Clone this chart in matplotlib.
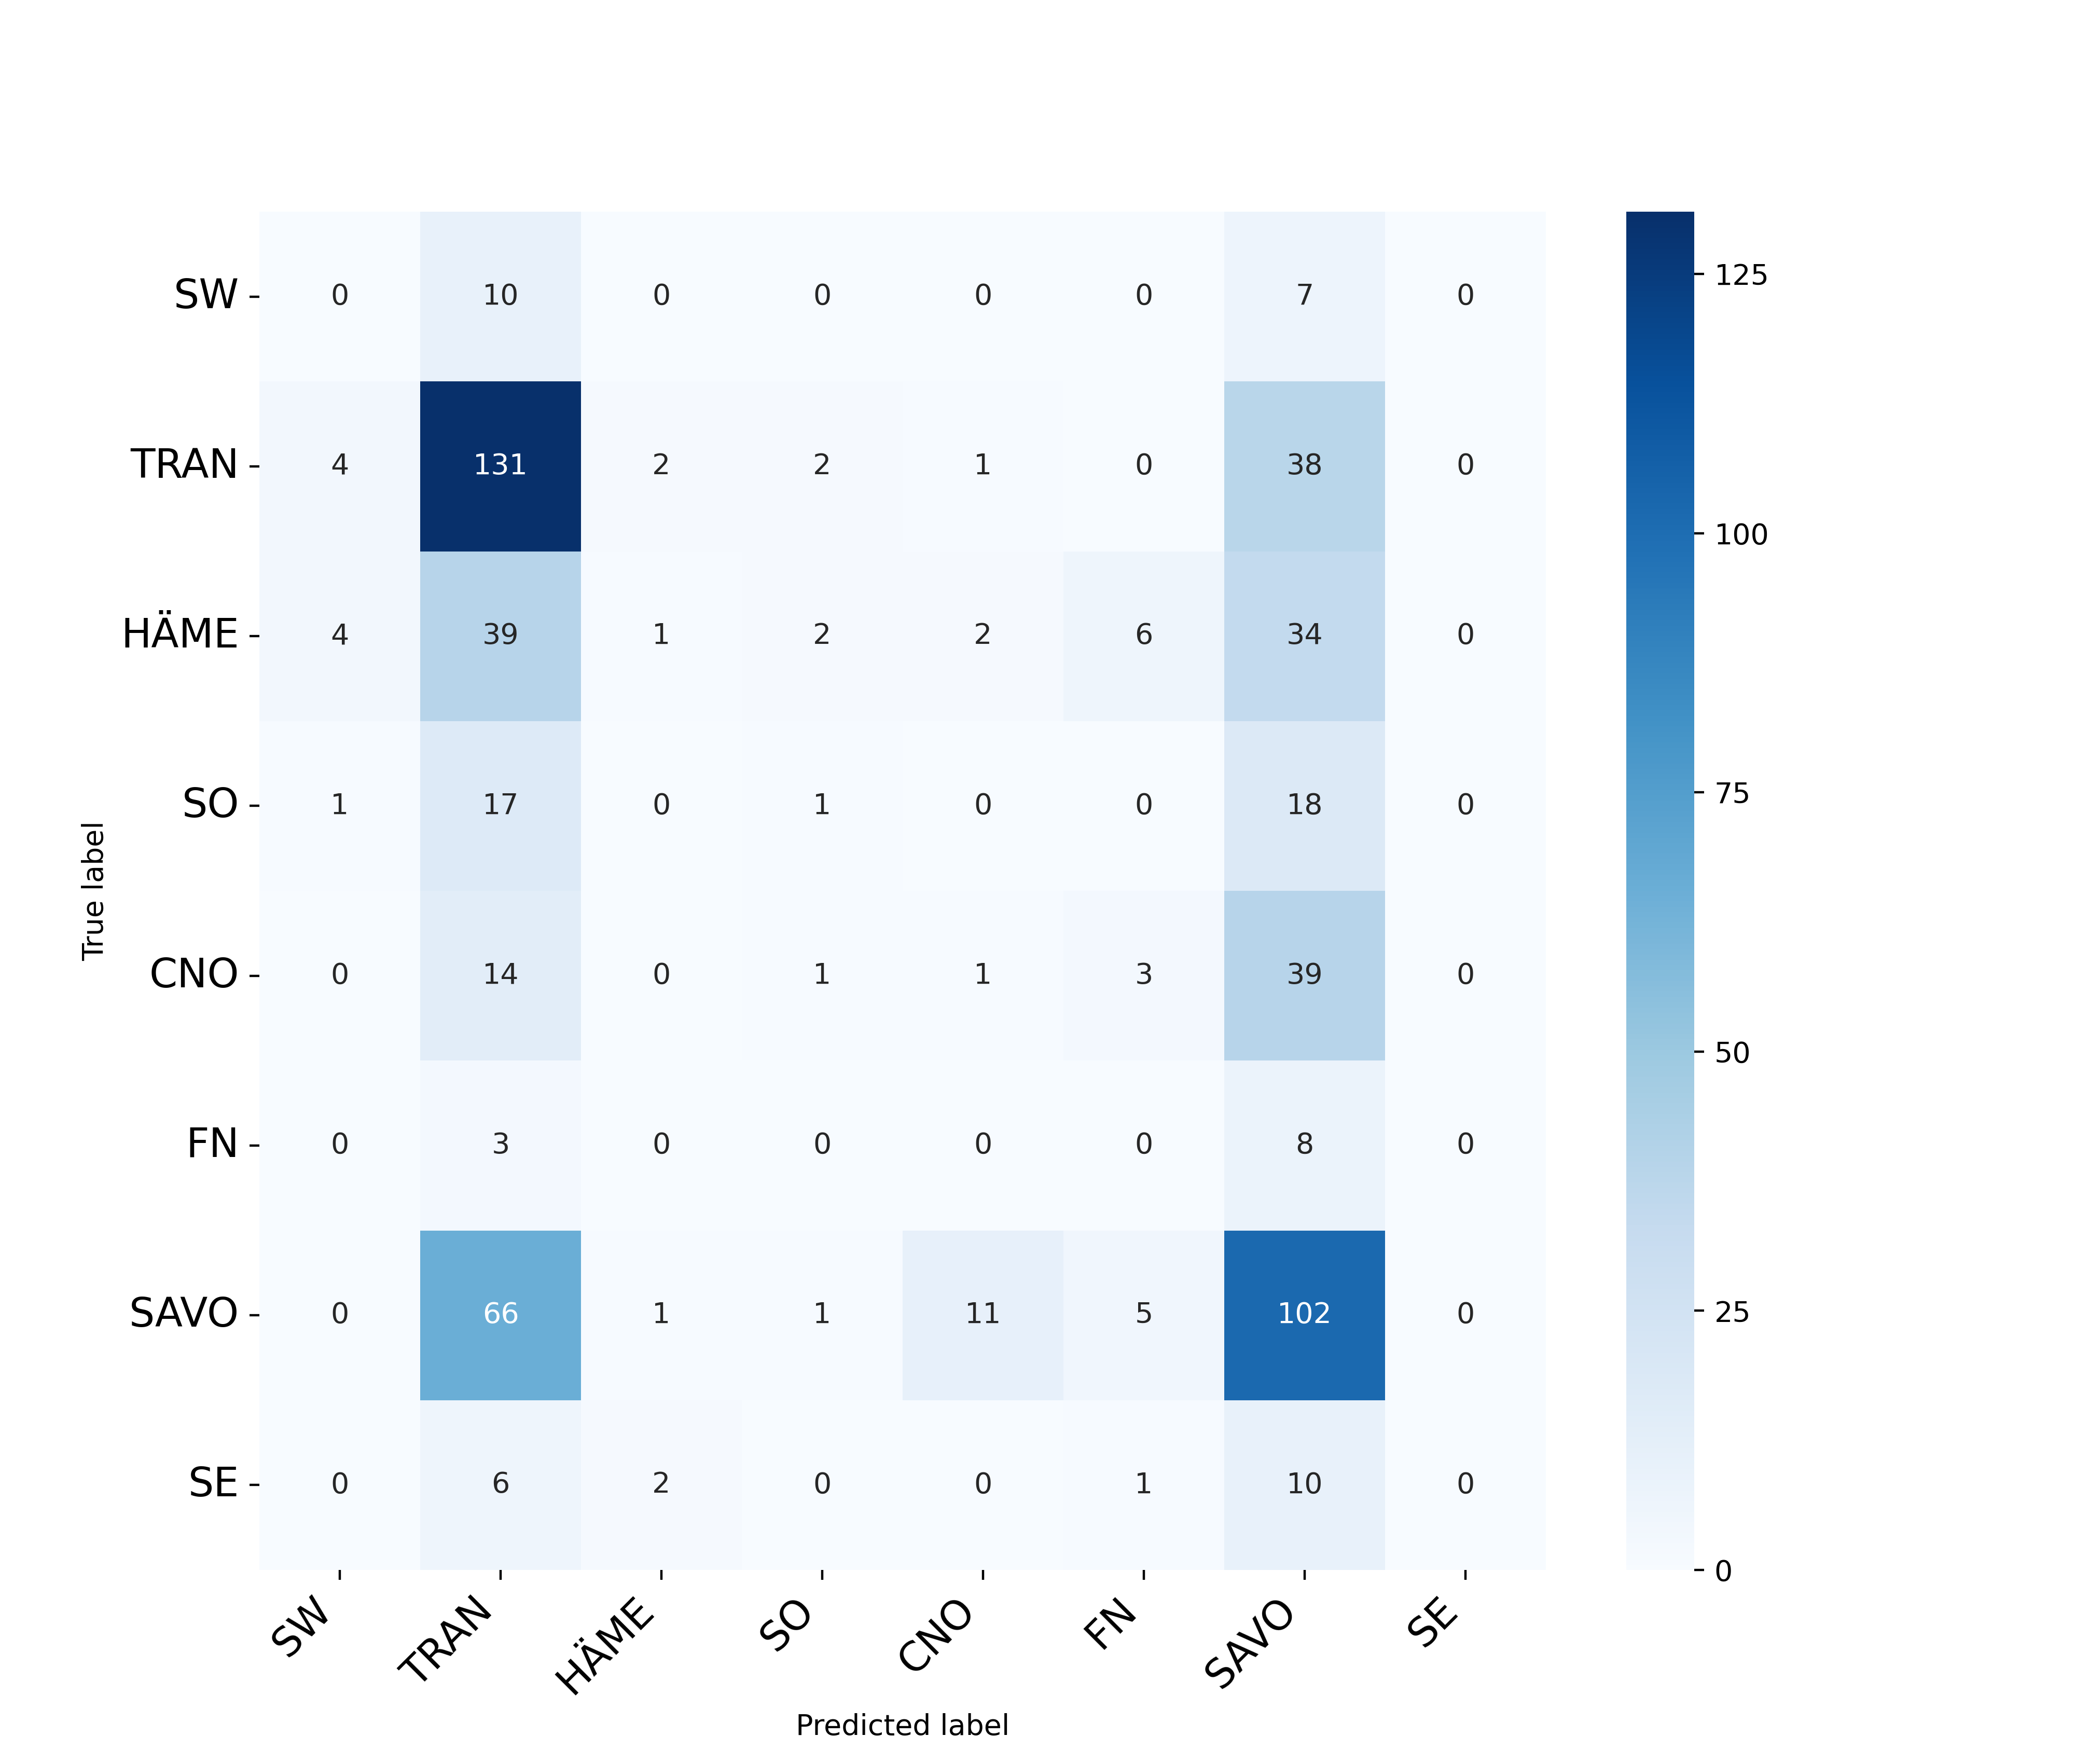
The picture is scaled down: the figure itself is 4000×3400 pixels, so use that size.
import matplotlib
matplotlib.use("Agg")
import matplotlib.pyplot as plt
from matplotlib.ticker import MultipleLocator
import seaborn as sns
import numpy as np

labels = ["SW", "TRAN", "HÄME", "SO", "CNO", "FN", "SAVO", "SE"]

row_sw = [0, 10, 0, 0, 0, 0, 7, 0]
row_tran = [4, 131, 2, 2, 1, 0, 38, 0]
row_hame = [4, 39, 1, 2, 2, 6, 34, 0]
row_so = [1, 17, 0, 1, 0, 0, 18, 0]
row_cno = [0, 14, 0, 1, 1, 3, 39, 0]
row_fn = [0, 3, 0, 0, 0, 0, 8, 0]
row_savo = [0, 66, 1, 1, 11, 5, 102, 0]
row_se = [0, 6, 2, 0, 0, 1, 10, 0]

cm = np.array([row_sw, row_tran, row_hame, row_so, row_cno, row_fn, row_savo, row_se])

fig = plt.figure(figsize=(10, 8.5))
ax = sns.heatmap(cm, annot=True, fmt="d", cmap="Blues",
                 xticklabels=labels, yticklabels=labels)
ax.set_yticklabels(labels, rotation=0, ha="right", fontsize=14)
ax.set_xticklabels(labels, rotation=45, ha="right", fontsize=14)
ax.set_ylabel("True label")
ax.set_xlabel("Predicted label")

cbar = ax.collections[0].colorbar
cbar.locator = MultipleLocator(25)
cbar.update_ticks()

plt.savefig("out.png", dpi=400)
